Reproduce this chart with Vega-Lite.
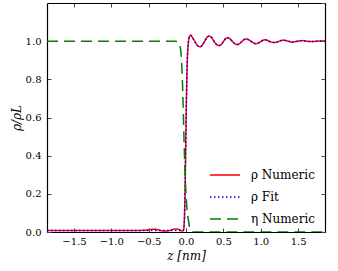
{
  "$schema": "https://vega.github.io/schema/vega-lite/v6.json",
  "width": 278,
  "height": 229,
  "autosize": {"type": "none"},
  "padding": {"left": 47, "top": 3, "right": 13, "bottom": 39},
  "background": "white",
  "config": {
    "view": {"stroke": null},
    "font": "DejaVu Serif",
    "axis": {
      "domainColor": "black",
      "domainWidth": 1.2,
      "tickColor": "#444",
      "tickSize": -4,
      "tickWidth": 1,
      "grid": false,
      "labelFont": "DejaVu Serif",
      "labelFontSize": 10,
      "labelColor": "black",
      "titleFont": "DejaVu Serif",
      "titleFontSize": 12,
      "titleFontWeight": "normal",
      "titleColor": "black"
    }
  },
  "data": {
    "values": [
      {"z": -1.86, "v": 0.008, "s": "ρ Numeric"},
      {"z": -1.5, "v": 0.008, "s": "ρ Numeric"},
      {"z": -1.0, "v": 0.008, "s": "ρ Numeric"},
      {"z": -0.7, "v": 0.008, "s": "ρ Numeric"},
      {"z": -0.55, "v": 0.009, "s": "ρ Numeric"},
      {"z": -0.48, "v": 0.013, "s": "ρ Numeric"},
      {"z": -0.43, "v": 0.015, "s": "ρ Numeric"},
      {"z": -0.38, "v": 0.012, "s": "ρ Numeric"},
      {"z": -0.33, "v": 0.007, "s": "ρ Numeric"},
      {"z": -0.27, "v": 0.005, "s": "ρ Numeric"},
      {"z": -0.21, "v": 0.009, "s": "ρ Numeric"},
      {"z": -0.16, "v": 0.015, "s": "ρ Numeric"},
      {"z": -0.12, "v": 0.016, "s": "ρ Numeric"},
      {"z": -0.08, "v": 0.010, "s": "ρ Numeric"},
      {"z": -0.05, "v": 0.005, "s": "ρ Numeric"},
      {"z": -0.035, "v": 0.008, "s": "ρ Numeric"},
      {"z": -0.025, "v": 0.04, "s": "ρ Numeric"},
      {"z": -0.015, "v": 0.16, "s": "ρ Numeric"},
      {"z": -0.005, "v": 0.42, "s": "ρ Numeric"},
      {"z": 0.005, "v": 0.68, "s": "ρ Numeric"},
      {"z": 0.015, "v": 0.87, "s": "ρ Numeric"},
      {"z": 0.025, "v": 0.96, "s": "ρ Numeric"},
      {"z": 0.035, "v": 1.005, "s": "ρ Numeric"},
      {"z": 0.047, "v": 1.026, "s": "ρ Numeric"},
      {"z": 0.063, "v": 1.031, "s": "ρ Numeric"},
      {"z": 0.078, "v": 1.024, "s": "ρ Numeric"},
      {"z": 0.094, "v": 1.014, "s": "ρ Numeric"},
      {"z": 0.11, "v": 1.004, "s": "ρ Numeric"},
      {"z": 0.125, "v": 0.994, "s": "ρ Numeric"},
      {"z": 0.14, "v": 0.984, "s": "ρ Numeric"},
      {"z": 0.156, "v": 0.976, "s": "ρ Numeric"},
      {"z": 0.172, "v": 0.972, "s": "ρ Numeric"},
      {"z": 0.187, "v": 0.971, "s": "ρ Numeric"},
      {"z": 0.203, "v": 0.973, "s": "ρ Numeric"},
      {"z": 0.22, "v": 0.98, "s": "ρ Numeric"},
      {"z": 0.25, "v": 1.0, "s": "ρ Numeric"},
      {"z": 0.28, "v": 1.02, "s": "ρ Numeric"},
      {"z": 0.297, "v": 1.025, "s": "ρ Numeric"},
      {"z": 0.312, "v": 1.026, "s": "ρ Numeric"},
      {"z": 0.328, "v": 1.024, "s": "ρ Numeric"},
      {"z": 0.345, "v": 1.018, "s": "ρ Numeric"},
      {"z": 0.375, "v": 0.999, "s": "ρ Numeric"},
      {"z": 0.41, "v": 0.982, "s": "ρ Numeric"},
      {"z": 0.427, "v": 0.978, "s": "ρ Numeric"},
      {"z": 0.442, "v": 0.977, "s": "ρ Numeric"},
      {"z": 0.458, "v": 0.979, "s": "ρ Numeric"},
      {"z": 0.475, "v": 0.984, "s": "ρ Numeric"},
      {"z": 0.5, "v": 0.998, "s": "ρ Numeric"},
      {"z": 0.53, "v": 1.013, "s": "ρ Numeric"},
      {"z": 0.545, "v": 1.017, "s": "ρ Numeric"},
      {"z": 0.558, "v": 1.018, "s": "ρ Numeric"},
      {"z": 0.572, "v": 1.016, "s": "ρ Numeric"},
      {"z": 0.59, "v": 1.012, "s": "ρ Numeric"},
      {"z": 0.62, "v": 0.999, "s": "ρ Numeric"},
      {"z": 0.655, "v": 0.986, "s": "ρ Numeric"},
      {"z": 0.672, "v": 0.983, "s": "ρ Numeric"},
      {"z": 0.687, "v": 0.983, "s": "ρ Numeric"},
      {"z": 0.7, "v": 0.984, "s": "ρ Numeric"},
      {"z": 0.72, "v": 0.988, "s": "ρ Numeric"},
      {"z": 0.75, "v": 0.999, "s": "ρ Numeric"},
      {"z": 0.78, "v": 1.009, "s": "ρ Numeric"},
      {"z": 0.8, "v": 1.011, "s": "ρ Numeric"},
      {"z": 0.813, "v": 1.011, "s": "ρ Numeric"},
      {"z": 0.83, "v": 1.009, "s": "ρ Numeric"},
      {"z": 0.845, "v": 1.006, "s": "ρ Numeric"},
      {"z": 0.875, "v": 0.998, "s": "ρ Numeric"},
      {"z": 0.905, "v": 0.99, "s": "ρ Numeric"},
      {"z": 0.92, "v": 0.988, "s": "ρ Numeric"},
      {"z": 0.937, "v": 0.987, "s": "ρ Numeric"},
      {"z": 0.955, "v": 0.988, "s": "ρ Numeric"},
      {"z": 0.97, "v": 0.991, "s": "ρ Numeric"},
      {"z": 1.0, "v": 0.998, "s": "ρ Numeric"},
      {"z": 1.03, "v": 1.005, "s": "ρ Numeric"},
      {"z": 1.058, "v": 1.007, "s": "ρ Numeric"},
      {"z": 1.09, "v": 1.004, "s": "ρ Numeric"},
      {"z": 1.12, "v": 0.998, "s": "ρ Numeric"},
      {"z": 1.155, "v": 0.994, "s": "ρ Numeric"},
      {"z": 1.187, "v": 0.993, "s": "ρ Numeric"},
      {"z": 1.22, "v": 0.996, "s": "ρ Numeric"},
      {"z": 1.25, "v": 1.0, "s": "ρ Numeric"},
      {"z": 1.28, "v": 1.004, "s": "ρ Numeric"},
      {"z": 1.31, "v": 1.005, "s": "ρ Numeric"},
      {"z": 1.345, "v": 1.002, "s": "ρ Numeric"},
      {"z": 1.375, "v": 0.999, "s": "ρ Numeric"},
      {"z": 1.41, "v": 0.996, "s": "ρ Numeric"},
      {"z": 1.44, "v": 0.996, "s": "ρ Numeric"},
      {"z": 1.47, "v": 0.998, "s": "ρ Numeric"},
      {"z": 1.5, "v": 1.0, "s": "ρ Numeric"},
      {"z": 1.53, "v": 1.002, "s": "ρ Numeric"},
      {"z": 1.56, "v": 1.003, "s": "ρ Numeric"},
      {"z": 1.6, "v": 1.001, "s": "ρ Numeric"},
      {"z": 1.63, "v": 0.999, "s": "ρ Numeric"},
      {"z": 1.69, "v": 0.998, "s": "ρ Numeric"},
      {"z": 1.75, "v": 1.0, "s": "ρ Numeric"},
      {"z": 1.81, "v": 1.001, "s": "ρ Numeric"},
      {"z": 1.86, "v": 1.0, "s": "ρ Numeric"},

      {"z": -1.86, "v": 0.008, "s": "ρ Fit"},
      {"z": -0.04, "v": 0.008, "s": "ρ Fit"},
      {"z": -0.025, "v": 0.04, "s": "ρ Fit"},
      {"z": -0.015, "v": 0.16, "s": "ρ Fit"},
      {"z": -0.005, "v": 0.42, "s": "ρ Fit"},
      {"z": 0.005, "v": 0.68, "s": "ρ Fit"},
      {"z": 0.015, "v": 0.87, "s": "ρ Fit"},
      {"z": 0.025, "v": 0.96, "s": "ρ Fit"},
      {"z": 0.035, "v": 1.005, "s": "ρ Fit"},
      {"z": 0.047, "v": 1.026, "s": "ρ Fit"},
      {"z": 0.063, "v": 1.031, "s": "ρ Fit"},
      {"z": 0.078, "v": 1.024, "s": "ρ Fit"},
      {"z": 0.094, "v": 1.014, "s": "ρ Fit"},
      {"z": 0.11, "v": 1.004, "s": "ρ Fit"},
      {"z": 0.125, "v": 0.994, "s": "ρ Fit"},
      {"z": 0.14, "v": 0.984, "s": "ρ Fit"},
      {"z": 0.156, "v": 0.976, "s": "ρ Fit"},
      {"z": 0.172, "v": 0.972, "s": "ρ Fit"},
      {"z": 0.187, "v": 0.971, "s": "ρ Fit"},
      {"z": 0.203, "v": 0.973, "s": "ρ Fit"},
      {"z": 0.22, "v": 0.98, "s": "ρ Fit"},
      {"z": 0.25, "v": 1.0, "s": "ρ Fit"},
      {"z": 0.28, "v": 1.02, "s": "ρ Fit"},
      {"z": 0.297, "v": 1.025, "s": "ρ Fit"},
      {"z": 0.312, "v": 1.026, "s": "ρ Fit"},
      {"z": 0.328, "v": 1.024, "s": "ρ Fit"},
      {"z": 0.345, "v": 1.018, "s": "ρ Fit"},
      {"z": 0.375, "v": 0.999, "s": "ρ Fit"},
      {"z": 0.41, "v": 0.982, "s": "ρ Fit"},
      {"z": 0.427, "v": 0.978, "s": "ρ Fit"},
      {"z": 0.442, "v": 0.977, "s": "ρ Fit"},
      {"z": 0.458, "v": 0.979, "s": "ρ Fit"},
      {"z": 0.475, "v": 0.984, "s": "ρ Fit"},
      {"z": 0.5, "v": 0.998, "s": "ρ Fit"},
      {"z": 0.53, "v": 1.013, "s": "ρ Fit"},
      {"z": 0.545, "v": 1.017, "s": "ρ Fit"},
      {"z": 0.558, "v": 1.018, "s": "ρ Fit"},
      {"z": 0.572, "v": 1.016, "s": "ρ Fit"},
      {"z": 0.59, "v": 1.012, "s": "ρ Fit"},
      {"z": 0.62, "v": 0.999, "s": "ρ Fit"},
      {"z": 0.655, "v": 0.986, "s": "ρ Fit"},
      {"z": 0.672, "v": 0.983, "s": "ρ Fit"},
      {"z": 0.687, "v": 0.983, "s": "ρ Fit"},
      {"z": 0.7, "v": 0.984, "s": "ρ Fit"},
      {"z": 0.72, "v": 0.988, "s": "ρ Fit"},
      {"z": 0.75, "v": 0.999, "s": "ρ Fit"},
      {"z": 0.78, "v": 1.009, "s": "ρ Fit"},
      {"z": 0.8, "v": 1.011, "s": "ρ Fit"},
      {"z": 0.813, "v": 1.011, "s": "ρ Fit"},
      {"z": 0.83, "v": 1.009, "s": "ρ Fit"},
      {"z": 0.845, "v": 1.006, "s": "ρ Fit"},
      {"z": 0.875, "v": 0.998, "s": "ρ Fit"},
      {"z": 0.905, "v": 0.99, "s": "ρ Fit"},
      {"z": 0.92, "v": 0.988, "s": "ρ Fit"},
      {"z": 0.937, "v": 0.987, "s": "ρ Fit"},
      {"z": 0.955, "v": 0.988, "s": "ρ Fit"},
      {"z": 0.97, "v": 0.991, "s": "ρ Fit"},
      {"z": 1.0, "v": 0.998, "s": "ρ Fit"},
      {"z": 1.03, "v": 1.005, "s": "ρ Fit"},
      {"z": 1.058, "v": 1.007, "s": "ρ Fit"},
      {"z": 1.09, "v": 1.004, "s": "ρ Fit"},
      {"z": 1.12, "v": 0.998, "s": "ρ Fit"},
      {"z": 1.155, "v": 0.994, "s": "ρ Fit"},
      {"z": 1.187, "v": 0.993, "s": "ρ Fit"},
      {"z": 1.22, "v": 0.996, "s": "ρ Fit"},
      {"z": 1.25, "v": 1.0, "s": "ρ Fit"},
      {"z": 1.28, "v": 1.004, "s": "ρ Fit"},
      {"z": 1.31, "v": 1.005, "s": "ρ Fit"},
      {"z": 1.345, "v": 1.002, "s": "ρ Fit"},
      {"z": 1.375, "v": 0.999, "s": "ρ Fit"},
      {"z": 1.41, "v": 0.996, "s": "ρ Fit"},
      {"z": 1.44, "v": 0.996, "s": "ρ Fit"},
      {"z": 1.47, "v": 0.998, "s": "ρ Fit"},
      {"z": 1.5, "v": 1.0, "s": "ρ Fit"},
      {"z": 1.53, "v": 1.002, "s": "ρ Fit"},
      {"z": 1.56, "v": 1.003, "s": "ρ Fit"},
      {"z": 1.6, "v": 1.001, "s": "ρ Fit"},
      {"z": 1.63, "v": 0.999, "s": "ρ Fit"},
      {"z": 1.69, "v": 0.998, "s": "ρ Fit"},
      {"z": 1.75, "v": 1.0, "s": "ρ Fit"},
      {"z": 1.81, "v": 1.001, "s": "ρ Fit"},
      {"z": 1.86, "v": 1.0, "s": "ρ Fit"},

      {"z": -1.86, "v": 1.0, "s": "η Numeric"},
      {"z": -0.3, "v": 1.0, "s": "η Numeric"},
      {"z": -0.15, "v": 1.0, "s": "η Numeric"},
      {"z": -0.1, "v": 0.995, "s": "η Numeric"},
      {"z": -0.08, "v": 0.975, "s": "η Numeric"},
      {"z": -0.065, "v": 0.93, "s": "η Numeric"},
      {"z": -0.055, "v": 0.86, "s": "η Numeric"},
      {"z": -0.044, "v": 0.74, "s": "η Numeric"},
      {"z": -0.035, "v": 0.62, "s": "η Numeric"},
      {"z": -0.027, "v": 0.49, "s": "η Numeric"},
      {"z": -0.018, "v": 0.37, "s": "η Numeric"},
      {"z": -0.01, "v": 0.28, "s": "η Numeric"},
      {"z": 0.0, "v": 0.2, "s": "η Numeric"},
      {"z": 0.015, "v": 0.11, "s": "η Numeric"},
      {"z": 0.031, "v": 0.065, "s": "η Numeric"},
      {"z": 0.045, "v": 0.03, "s": "η Numeric"},
      {"z": 0.063, "v": 0.01, "s": "η Numeric"},
      {"z": 0.08, "v": 0.002, "s": "η Numeric"},
      {"z": 0.1, "v": 0.0, "s": "η Numeric"},
      {"z": 1.86, "v": 0.0, "s": "η Numeric"}
    ]
  },
  "layer": [
    {
      "mark": {"type": "line", "strokeWidth": 1.5, "interpolate": "monotone", "clip": true},
      "encoding": {
        "x": {
          "field": "z", "type": "quantitative",
          "scale": {"domain": [-1.86, 1.86], "nice": false, "zero": false},
          "axis": {"orient": "bottom", "values": [-1.5, -1.0, -0.5, 0.0, 0.5, 1.0, 1.5], "format": ".1f", "labelPadding": 8, "title": "z [nm]", "titlePadding": 4, "titleFontStyle": "italic"}
        },
        "y": {
          "field": "v", "type": "quantitative",
          "scale": {"domain": [0, 1.2], "nice": false},
          "axis": {"orient": "left", "values": [0, 0.2, 0.4, 0.6, 0.8, 1.0], "format": ".1f", "labelPadding": 10, "title": "ρ/ρL", "titlePadding": 2, "titleFontStyle": "italic"}
        },
        "color": {
          "field": "s", "type": "nominal",
          "scale": {"domain": ["ρ Numeric", "ρ Fit", "η Numeric"], "range": ["#ff0000", "#0000ff", "#008000"]},
          "legend": {
            "title": null, "orient": "none", "legendX": 162, "legendY": 156,
            "symbolType": "stroke", "symbolSize": 900, "symbolStrokeWidth": 1.5,
            "labelFont": "DejaVu Serif", "labelFontSize": 12, "labelColor": "black",
            "labelOffset": 10, "rowPadding": -11, "padding": 0
          }
        },
        "strokeDash": {
          "field": "s", "type": "nominal",
          "scale": {"domain": ["ρ Numeric", "ρ Fit", "η Numeric"], "range": [[1, 0], [1.5, 2.5], [11, 6]]},
          "legend": {
            "title": null, "orient": "none", "legendX": 162, "legendY": 156,
            "symbolType": "stroke", "symbolSize": 900, "symbolStrokeWidth": 1.5,
            "labelFont": "DejaVu Serif", "labelFontSize": 12, "labelColor": "black",
            "labelOffset": 10, "rowPadding": -11, "padding": 0
          }
        },
        "order": {"field": "z", "type": "quantitative"}
      }
    },
    {
      "mark": {"type": "line", "opacity": 0},
      "encoding": {
        "x": {
          "field": "z", "type": "quantitative",
          "scale": {"domain": [-1.86, 1.86], "nice": false, "zero": false},
          "axis": {"orient": "top", "values": [-1.5, -1.0, -0.5, 0.0, 0.5, 1.0, 1.5], "labels": false, "title": null}
        },
        "y": {
          "field": "v", "type": "quantitative",
          "scale": {"domain": [0, 1.2], "nice": false},
          "axis": {"orient": "right", "values": [0, 0.2, 0.4, 0.6, 0.8, 1.0, 1.2], "labels": false, "title": null}
        },
        "detail": {"field": "s"}
      }
    }
  ],
  "resolve": {"axis": {"x": "independent", "y": "independent"}}
}
